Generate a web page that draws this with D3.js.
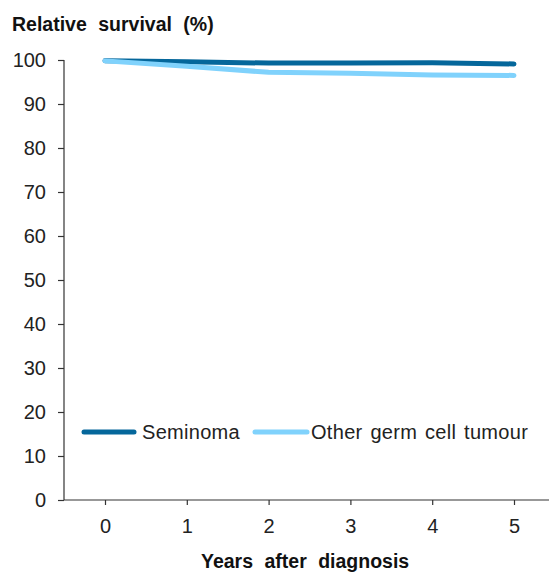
<!DOCTYPE html>
<html><head><meta charset="utf-8">
<script src="https://cdn.jsdelivr.net/npm/d3@7"></script>
<style>body{margin:0;background:#fff}svg{display:block;font-family:"Liberation Sans",Arial,sans-serif}</style>
</head><body><svg id="c" width="549" height="574"></svg>
<script>
const years = [0, 1, 2, 3, 4, 5];
const seminoma = [99.85, 99.6, 99.3, 99.3, 99.4, 99.1];
const otherGerm = [99.8, 98.6, 97.2, 97.0, 96.6, 96.5];
const seriesNames = ["Seminoma", "Other germ cell tumour"];
const seriesColors = ["#05679b", "#80d2fc"];
const yTicks = [0, 10, 20, 30, 40, 50, 60, 70, 80, 90, 100];

const svg = d3.select("#c");
const x = d3.scaleLinear().domain([0, 5]).range([105, 514]);
const y = d3.scaleLinear().domain([0, 100]).range([500, 60]);
const axisColor = "#333";
const FONT = '"Liberation Sans",Arial,sans-serif';

const yAxis = svg.append("g").attr("transform", "translate(64,0)")
  .call(d3.axisLeft(y).tickValues(yTicks).tickSize(6).tickPadding(12).tickFormat(d3.format("d")));
yAxis.select(".domain").attr("d", `M0,${y(100)}V${y(0)}`);
const xAxis = svg.append("g").attr("transform", `translate(0,${y(0)})`)
  .call(d3.axisBottom(x).tickValues(years).tickSize(5).tickPadding(14).tickFormat(d3.format("d")));
xAxis.select(".domain").attr("d", `M64,0H549`);
[yAxis, xAxis].forEach(g => {
  g.selectAll("path,line").attr("stroke", axisColor).attr("stroke-width", 1.2);
  g.selectAll("text").attr("fill", "#222").attr("font-size", 20).attr("font-family", FONT);
});

const line = d3.line().x((d, i) => x(years[i])).y(d => y(d)).curve(d3.curveLinear);
[seminoma, otherGerm].forEach((s, k) => {
  svg.append("path").datum(s).attr("d", line).attr("fill", "none")
    .attr("stroke", seriesColors[k]).attr("stroke-width", 5).attr("stroke-linecap", "round").attr("stroke-linejoin", "round");
});

svg.append("text").attr("x", 12).attr("y", 31).attr("font-size", 19.5).attr("font-weight", "bold").attr("fill", "#111")
  .attr("word-spacing", 6).text("Relative survival (%)");
svg.append("text").attr("x", 201).attr("y", 568).attr("font-size", 19.5).attr("font-weight", "bold").attr("fill", "#111")
  .attr("word-spacing", 6).text("Years after diagnosis");

const legend = [{x1: 84, x2: 134, tx: 142}, {x1: 255, x2: 307, tx: 311}];
legend.forEach((l, k) => {
  svg.append("line").attr("x1", l.x1).attr("x2", l.x2).attr("y1", 432).attr("y2", 432)
    .attr("stroke", seriesColors[k]).attr("stroke-width", 5).attr("stroke-linecap", "round");
  svg.append("text").attr("x", l.tx).attr("y", 439).attr("font-size", 20).attr("fill", "#222")
    .attr("letter-spacing", 0.3).attr("word-spacing", 2).text(seriesNames[k]);
});
</script></body></html>
